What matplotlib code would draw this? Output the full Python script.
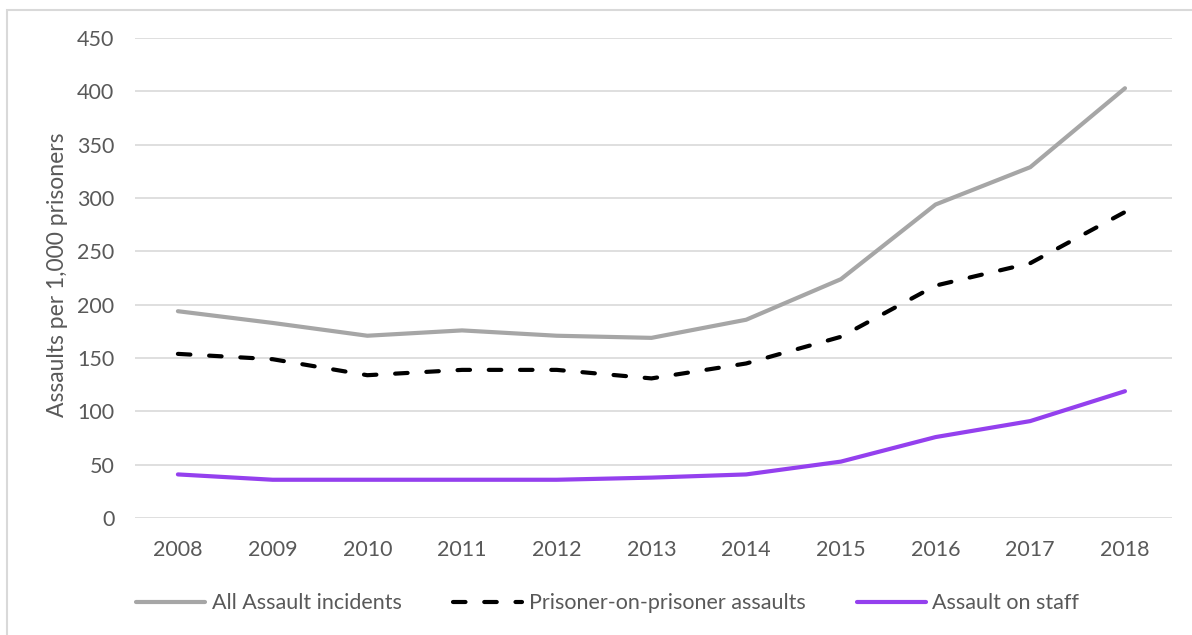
import matplotlib
matplotlib.use("Agg")
import matplotlib.pyplot as plt
from matplotlib.patches import Rectangle

plt.rcParams['font.family'] = ['Lato', 'DejaVu Sans']

years = [2008, 2009, 2010, 2011, 2012, 2013, 2014, 2015, 2016, 2017, 2018]
all_assaults = [194, 183, 171, 176, 171, 169, 186, 224, 294, 329, 403]
prisoner_on_prisoner = [154, 149, 134, 139, 139, 131, 145, 170, 218, 239, 287]
assault_on_staff = [41, 36, 36, 36, 36, 38, 41, 53, 76, 91, 119]

text_col = '#595959'

fig = plt.figure(figsize=(11.92, 6.35), dpi=100)
ax = fig.add_axes([0.1135, 0.184, 0.870, 0.756])

ax.plot(years, all_assaults, color='#A6A6A6', lw=3.0, solid_capstyle='round',
        label='All Assault incidents', zorder=3)
ax.plot(years, prisoner_on_prisoner, color='black', lw=3.0, dashes=(3, 4.5),
        dash_capstyle='round', label='Prisoner-on-prisoner assaults', zorder=3)
ax.plot(years, assault_on_staff, color='#9440EE', lw=3.0, solid_capstyle='round',
        label='Assault on staff', zorder=3)

ax.set_xlim(2007.55, 2018.5)
ax.set_ylim(0, 450)
ax.set_yticks(range(0, 451, 50))
ax.set_xticks(years)
ax.grid(axis='y', color='#D9D9D9', lw=1.2)
ax.set_axisbelow(True)
for s in ax.spines.values():
    s.set_visible(False)
ax.tick_params(axis='both', length=0, labelsize=15.5, labelcolor=text_col)
ax.tick_params(axis='y', pad=15)
ax.tick_params(axis='x', pad=16)
ax.set_ylabel('Assaults per 1,000 prisoners', fontsize=16.5, color=text_col)
ax.yaxis.set_label_coords(-0.065, 0.506)

leg = fig.legend(loc='center', bbox_to_anchor=(0.51, 0.05), ncol=3, frameon=False,
                 fontsize=15.5, handlelength=3.2, handletextpad=0.3, columnspacing=2.4)
for t in leg.get_texts():
    t.set_color(text_col)

# outer border of the original chart image (only top/left visible)
fig.patches.append(Rectangle((7 / 1192, -0.1), 1.2, 1 - 10 / 635 + 0.1,
                             transform=fig.transFigure, fill=False,
                             edgecolor='#D9D9D9', lw=1.5))

fig.savefig('out.png', dpi=100)
